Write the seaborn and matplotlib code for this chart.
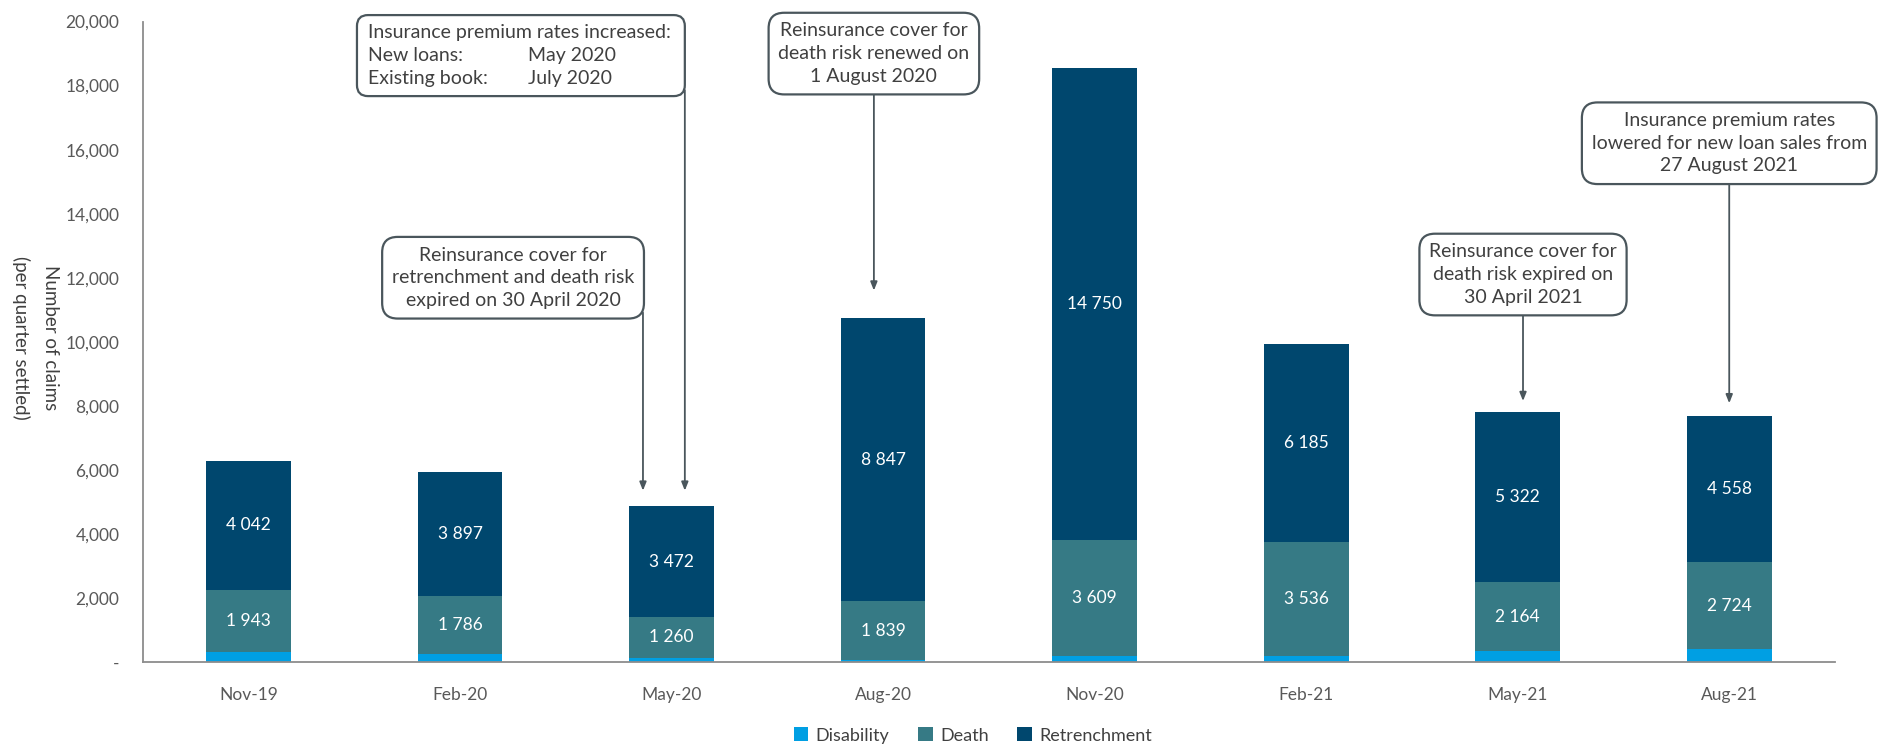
import matplotlib
matplotlib.use("Agg")
import matplotlib.pyplot as plt
from matplotlib.patches import Patch, FancyBboxPatch
from matplotlib.transforms import IdentityTransform
from matplotlib.ticker import FuncFormatter, MultipleLocator
import numpy as np
import seaborn as sns

# Quarterly settled claims by type
quarters = ["Nov-19", "Feb-20", "May-20", "Aug-20", "Nov-20", "Feb-21", "May-21", "Aug-21"]
disability = [300, 260, 135, 50, 200, 200, 335, 390]
death = [1943, 1786, 1260, 1839, 3609, 3536, 2164, 2724]
retrenchment = [4042, 3897, 3472, 8847, 14750, 6185, 5322, 4558]

series_names = ["Disability", "Death", "Retrenchment"]
series_colors = ["#009FE3", "#367A85", "#00476E"]

# Premium increase note (two columns)
premium_title = "Insurance premium rates increased:"
premium_rows = ["New loans:", "Existing book:"]
premium_dates = ["May 2020", "July 2020"]

# Event notes: (text, box centre x, box centre y, arrow x or "right", arrow tip y)
notes = [
    ("Reinsurance cover for\nretrenchment and death risk\nexpired on 30 April 2020", 1.25, 12000, "right", 5350),
    ("Reinsurance cover for\ndeath risk renewed on\n1 August 2020", 2.956, 19000, 2.956, 11600),
    ("Reinsurance cover for\ndeath risk expired on\n30 April 2021", 6.025, 12100, 6.025, 8150),
    ("Insurance premium rates\nlowered for new loan sales from\n27 August 2021", 7.0, 16200, 7.0, 8080),
]

sns.set_style("white")
plt.rcParams["font.family"] = ["Lato", "DejaVu Sans"]

TEXT = "#404040"
BOX_EDGE = "#4A565C"
NOTE_FS = 14
NOTE_LS = 1.4

fig = plt.figure(figsize=(18.83, 7.49), dpi=100)
ax = fig.add_axes([0.0759, 0.1162, 0.8986, 0.855])

dis = np.array(disability)
dea = np.array(death)
ret = np.array(retrenchment)
totals = dis + dea + ret
lower = dis + dea

# stacked bars: draw cumulative heights back-to-front
sns.barplot(x=quarters, y=totals, color=series_colors[2], width=0.4, ax=ax,
            saturation=1, edgecolor="none")
sns.barplot(x=quarters, y=lower, color=series_colors[1], width=0.4, ax=ax,
            saturation=1, edgecolor="none")
sns.barplot(x=quarters, y=dis, color=series_colors[0], width=0.4, ax=ax,
            saturation=1, edgecolor="none")

# value labels for death and retrenchment segments
for i in range(len(quarters)):
    ax.text(i, dis[i] + dea[i] / 2, f"{dea[i]:,}".replace(",", " "), ha="center",
            va="center", color="white", fontsize=12.5)
    ax.text(i, lower[i] + ret[i] / 2, f"{ret[i]:,}".replace(",", " "), ha="center",
            va="center", color="white", fontsize=12.5)

ax.set_xlim(-0.5, 7.5)
ax.set_ylim(0, 20000)
ax.yaxis.set_major_locator(MultipleLocator(2000))
ax.yaxis.set_major_formatter(FuncFormatter(lambda v, p: "-" if v == 0 else f"{int(v):,}"))
ax.tick_params(axis="y", length=0, pad=17, labelsize=12.5, labelcolor="#595959")
ax.tick_params(axis="x", length=0, pad=18, labelsize=12.5, labelcolor="#595959")
ax.set_xlabel("")
ax.set_ylabel("")
for s in ["top", "right"]:
    ax.spines[s].set_visible(False)
for s in ["left", "bottom"]:
    ax.spines[s].set_color("#8C8C8C")
    ax.spines[s].set_linewidth(1.3)

fig.text(0.0189, 0.549, "Number of claims\n(per quarter settled)", rotation=270,
         ha="center", va="center", fontsize=13.5, color=TEXT, linespacing=1.8)

box_style = dict(boxstyle="round,pad=0.5,rounding_size=0.8", facecolor="white",
                 edgecolor=BOX_EDGE, linewidth=1.6)
arrow_style = dict(arrowstyle="-|>,head_length=0.5,head_width=0.2", color=BOX_EDGE,
                   lw=1.3, shrinkA=0, shrinkB=0)

# premium increase note: title line plus two aligned columns
pt = [ax.text(0.564, 19656, premium_title, ha="left", va="center", fontsize=NOTE_FS,
              color=TEXT, clip_on=False, zorder=6)]
for j, (row, date) in enumerate(zip(premium_rows, premium_dates)):
    yy = 18937 - j * 718
    pt.append(ax.text(0.564, yy, row, ha="left", va="center", fontsize=NOTE_FS,
                      color=TEXT, clip_on=False, zorder=6))
    pt.append(ax.text(1.32, yy, date, ha="left", va="center", fontsize=NOTE_FS,
                      color=TEXT, clip_on=False, zorder=6))

note_texts = []
for text, bx, by, axx, tip in notes:
    t = ax.text(bx, by, text, ha="center", va="center", fontsize=NOTE_FS, color=TEXT,
                linespacing=NOTE_LS, bbox=box_style, clip_on=False, zorder=5)
    note_texts.append(t)

fig.canvas.draw()
renderer = fig.canvas.get_renderer()
to_data = ax.transData.inverted()

# frame around the two-column note, in pixel space, under its texts
ext = [t.get_window_extent(renderer) for t in pt]
x0 = min(e.x0 for e in ext) - 11
x1 = max(e.x1 for e in ext) + 14
y0 = min(e.y0 for e in ext) - 9
y1 = max(e.y1 for e in ext) + 9
frame = FancyBboxPatch((x0, y0), x1 - x0, y1 - y0, boxstyle="round,pad=0,rounding_size=11",
                       facecolor="white", edgecolor=BOX_EDGE, linewidth=1.6,
                       transform=IdentityTransform(), zorder=5, clip_on=False)
ax.add_artist(frame)
fx, fy = to_data.transform((x1, y0 + 6))
ax.annotate("", xy=(fx, 5350), xytext=(fx, fy), arrowprops=arrow_style,
            annotation_clip=False, zorder=4)

# arrows from the remaining note boxes down to their bars
for t, (text, bx, by, axx, tip) in zip(note_texts, notes):
    be = t.get_bbox_patch().get_window_extent(renderer)
    if axx == "right":
        sx, sy = to_data.transform((be.x1 - 1, be.y0 + 6))
    else:
        sx = axx
        _, sy = to_data.transform((be.x0, be.y0 + 2))
    ax.annotate("", xy=(sx, tip), xytext=(sx, sy), arrowprops=arrow_style,
                annotation_clip=False, zorder=4)

handles = [Patch(facecolor=c, edgecolor="none", label=n) for n, c in zip(series_names, series_colors)]
fig.legend(handles=handles, loc="center", bbox_to_anchor=(0.5167, 0.018), ncol=3,
           frameon=False, fontsize=13, handlelength=0.8, handleheight=0.8,
           handletextpad=0.4, columnspacing=1.6, labelcolor=TEXT)

fig.savefig("out.png", dpi=100)
